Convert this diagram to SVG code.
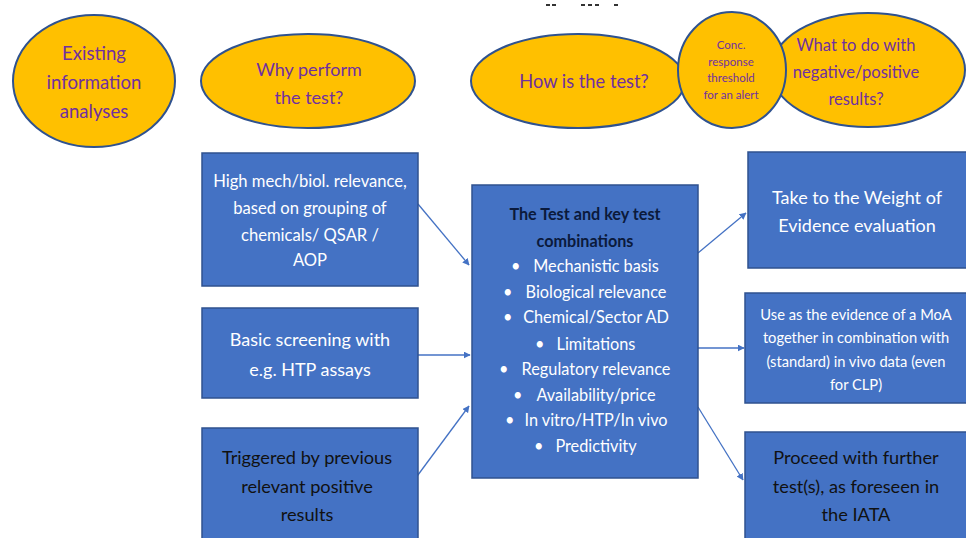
<svg xmlns="http://www.w3.org/2000/svg" width="966" height="538" viewBox="0 0 966 538">
<defs>
<marker id="ah" viewBox="0 0 10 10" refX="9" refY="5" markerWidth="7" markerHeight="7" orient="auto" markerUnits="userSpaceOnUse">
<path d="M0,0 L10,5 L0,10 z" fill="#4472C4"/>
</marker>
<style>
.ell{fill:#FFC000;stroke:#2F528F;stroke-width:2}
.box{fill:#4472C4;stroke:#2F528F;stroke-width:1.5}
.pt{font-family:Lato,"Open Sans",sans-serif;fill:#7030A0;text-anchor:middle}
.wt{font-family:Lato,"Open Sans",sans-serif;fill:#FFFFFF;text-anchor:middle}
.bt{font-family:Lato,"Open Sans",sans-serif;fill:#111111;text-anchor:middle}
.hd{font-family:Lato,"Open Sans",sans-serif;fill:#0B1A3C;text-anchor:middle;font-weight:bold}
.bl{font-family:Lato,"Open Sans",sans-serif;fill:#FFFFFF}
.con{stroke:#4472C4;stroke-width:1.3;fill:none;marker-end:url(#ah)}
</style>
</defs>
<rect width="966" height="538" fill="#FFFFFF"/>
<g id="topmarks" fill="#333333">
<rect x="546" y="4" width="4" height="2"/><rect x="552" y="4" width="4" height="2"/>
<rect x="581" y="4" width="4" height="2"/><rect x="588" y="4" width="4" height="2"/><rect x="595" y="4" width="4" height="2"/>
<rect x="614" y="4" width="4" height="2"/>
</g>
<g id="n-existing">
<ellipse class="ell" cx="94" cy="81" rx="81" ry="66"/>
<text class="pt" font-size="18.6"><tspan x="94" y="60">Existing</tspan><tspan x="94" y="89">information</tspan><tspan x="94" y="118">analyses</tspan></text>
</g>
<g id="n-why">
<ellipse class="ell" cx="308" cy="81" rx="107" ry="47"/>
<text class="pt" font-size="18"><tspan x="309" y="76">Why perform</tspan><tspan x="309" y="104">the test?</tspan></text>
</g>
<g id="n-how">
<ellipse class="ell" cx="578" cy="81" rx="107" ry="47"/>
<text class="pt" font-size="18.3" x="584" y="88">How is the test?</text>
</g>
<g id="n-what">
<ellipse class="ell" cx="868" cy="70" rx="97" ry="57"/>
<text class="pt" font-size="16.6"><tspan x="856" y="51">What to do with</tspan><tspan x="856" y="78">negative/positive</tspan><tspan x="856" y="105">results?</tspan></text>
</g>
<g id="n-conc">
<ellipse class="ell" cx="732" cy="70" rx="54" ry="58"/>
<text class="pt" font-size="11.5"><tspan x="731" y="49">Conc.</tspan><tspan x="731" y="66">response</tspan><tspan x="731" y="82">threshold</tspan><tspan x="731" y="99">for an alert</tspan></text>
</g>
<g id="connectors">
<line class="con" x1="418" y1="204" x2="469" y2="265"/>
<line class="con" x1="418" y1="355" x2="470" y2="355"/>
<line class="con" x1="412" y1="483" x2="469" y2="406"/>
<line class="con" x1="698" y1="253" x2="746" y2="213"/>
<line class="con" x1="698" y1="348" x2="744" y2="348"/>
<line class="con" x1="698" y1="407" x2="743" y2="480"/>
</g>
<g id="n-high">
<rect class="box" x="202" y="153" width="216" height="133"/>
<text class="wt" font-size="16.6"><tspan x="310" y="187">High mech/biol. relevance,</tspan><tspan x="310" y="214">based on grouping of</tspan><tspan x="310" y="241">chemicals/ QSAR /</tspan><tspan x="310" y="266">AOP</tspan></text>
</g>
<g id="n-basic">
<rect class="box" x="202" y="308" width="216" height="90"/>
<text class="wt" font-size="18"><tspan x="310" y="346">Basic screening with</tspan><tspan x="310" y="376">e.g. HTP assays</tspan></text>
</g>
<g id="n-trig">
<rect class="box" x="202" y="428" width="216" height="115"/>
<text class="bt" font-size="18.2"><tspan x="307" y="464">Triggered by previous</tspan><tspan x="307" y="493">relevant positive</tspan><tspan x="307" y="521">results</tspan></text>
</g>
<g id="n-test">
<rect class="box" x="472" y="185" width="226" height="293"/>
<text class="hd" font-size="16.2"><tspan x="585" y="220">The Test and key test</tspan><tspan x="585" y="247">combinations</tspan></text>
<g class="bl" font-size="16.3">
<text x="511" y="272">•</text><text x="596" y="272" text-anchor="middle">Mechanistic basis</text>
<text x="503" y="298">•</text><text x="596" y="298" text-anchor="middle">Biological relevance</text>
<text x="503" y="323">•</text><text x="596" y="323" text-anchor="middle">Chemical/Sector AD</text>
<text x="535" y="350">•</text><text x="596" y="350" text-anchor="middle">Limitations</text>
<text x="499" y="375">•</text><text x="596" y="375" text-anchor="middle">Regulatory relevance</text>
<text x="513" y="401">•</text><text x="596" y="401" text-anchor="middle">Availability/price</text>
<text x="505" y="426">•</text><text x="596" y="426" text-anchor="middle">In vitro/HTP/In vivo</text>
<text x="534" y="452">•</text><text x="596" y="452" text-anchor="middle">Predictivity</text>
</g>
</g>
<g id="n-woe">
<rect class="box" x="748" y="152" width="220" height="116"/>
<text class="wt" font-size="18"><tspan x="857" y="204">Take to the Weight of</tspan><tspan x="857" y="232">Evidence evaluation</tspan></text>
</g>
<g id="n-moa">
<rect class="box" x="745" y="293" width="223" height="110"/>
<text class="wt" font-size="14.7"><tspan x="856" y="320">Use as the evidence of a MoA</tspan><tspan x="856" y="343">together in combination with</tspan><tspan x="856" y="367">(standard) in vivo data (even</tspan><tspan x="856" y="390">for CLP)</tspan></text>
</g>
<g id="n-proceed">
<rect class="box" x="745" y="432" width="223" height="110"/>
<text class="bt" font-size="18.2"><tspan x="856" y="464">Proceed with further</tspan><tspan x="856" y="493">test(s), as foreseen in</tspan><tspan x="856" y="521">the IATA</tspan></text>
</g>
</svg>
